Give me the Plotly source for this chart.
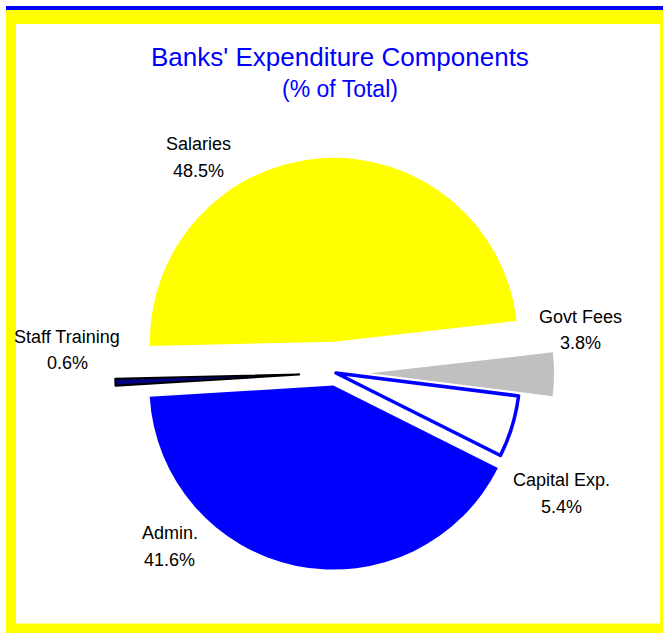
import plotly.graph_objects as go

# Expenditure shares (% of total), clockwise from the top-left
labels = ["Salaries", "Govt Fees", "Capital Exp.", "Admin.", "Staff Training"]
values = [48.5, 3.8, 5.4, 41.6, 0.6]
pulls = [0.17, 0.185, 0.0, 0.07, 0.2]
fill_colors = ["#FFFF00", "#C0C0C0", "#FFFFFF", "#0000FF", "#000080"]
edge_colors = ["#FFFFFF", "#FFFFFF", "#0000FF", "#FFFFFF", "#000000"]
edge_widths = [0, 0, 3.5, 0, 2]

# label positions in pixels: centre x, baseline of name line, baseline of value line
label_pos = {
    "Salaries": (198, 150, 177),
    "Govt Fees": (580, 323, 349),
    "Capital Exp.": (561, 486, 513),
    "Admin.": (170, 539, 566),
    "Staff Training": (67, 343, 369),
}

W, H = 663, 633
LABEL_SIZE = 18

fig = go.Figure(
    go.Pie(
        labels=labels,
        values=values,
        pull=pulls,
        sort=False,
        direction="clockwise",
        rotation=-91.3,
        textinfo="none",
        hoverinfo="label+percent",
        marker=dict(colors=fill_colors,
                    line=dict(color=edge_colors, width=edge_widths)),
        domain=dict(x=[0.1737, 0.8398], y=[0.0619, 0.7596]),
        showlegend=False,
    )
)

label_font = dict(family="Liberation Sans, Arial", size=LABEL_SIZE, color="#000000")


def line_annotation(text, px, baseline, font):
    # anchor on the vertical middle of the capitals
    mid = baseline - 0.36 * font["size"]
    return dict(x=px / W, y=1 - mid / H, xref="paper", yref="paper",
                xanchor="center", yanchor="middle", showarrow=False,
                text=text, font=font)


annotations = []
for name, val in zip(labels, values):
    px, b1, b2 = label_pos[name]
    annotations.append(line_annotation(name, px, b1, label_font))
    annotations.append(line_annotation(f"{val:.1f}%", px, b2, label_font))

title_font = dict(family="Liberation Sans, Arial", color="#0000FF")
annotations.append(line_annotation("Banks' Expenditure Components", 340, 66,
                                   dict(size=26, **title_font)))
annotations.append(line_annotation("(% of Total)", 340, 97,
                                   dict(size=23, **title_font)))

# yellow frame with a blue rule across the top
shapes = [
    dict(type="rect", xref="paper", yref="paper", layer="below",
         x0=6 / W, x1=1.01, y0=-0.01, y1=1 - 10 / H,
         fillcolor="#FFFF00", line=dict(width=0)),
    dict(type="rect", xref="paper", yref="paper", layer="below",
         x0=16 / W, x1=660 / W, y0=1 - 623.5 / H, y1=1 - 24 / H,
         fillcolor="#FFFFFF", line=dict(width=0)),
    dict(type="rect", xref="paper", yref="paper", layer="below",
         x0=6 / W, x1=1.01, y0=1 - 10 / H, y1=1 - 6 / H,
         fillcolor="#0000FF", line=dict(width=0)),
]

fig.update_layout(
    width=W, height=H,
    margin=dict(l=0, r=0, t=0, b=0),
    paper_bgcolor="#FFFFFF",
    plot_bgcolor="#FFFFFF",
    annotations=annotations,
    shapes=shapes,
)

fig.write_html("out.html")
